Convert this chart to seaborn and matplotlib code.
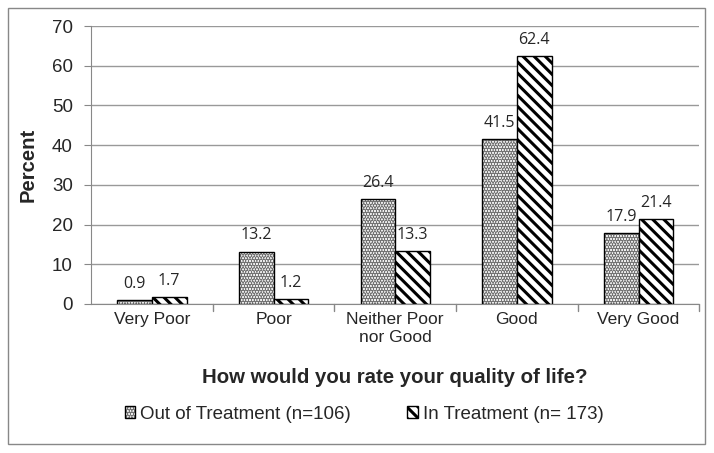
import matplotlib
matplotlib.use("Agg")
import matplotlib.pyplot as plt
import seaborn as sns
import pandas as pd
from matplotlib.patches import Rectangle

categories = ["Very Poor", "Poor", "Neither Poor\nnor Good", "Good", "Very Good"]
series_names = ["Out of Treatment (n=106)", "In Treatment (n= 173)"]
out_values = [0.9, 13.2, 26.4, 41.5, 17.9]
in_values = [1.7, 1.2, 13.3, 62.4, 21.4]
y_ticks = [0, 10, 20, 30, 40, 50, 60, 70]

df = pd.DataFrame({
    "category": categories * 2,
    "series": [series_names[0]] * 5 + [series_names[1]] * 5,
    "value": out_values + in_values,
})

sns.set_style("white")
plt.rcParams["font.family"] = ["Liberation Sans", "DejaVu Sans"]
plt.rcParams["hatch.linewidth"] = 2.2

fig = plt.figure(figsize=(7.14, 4.53), dpi=100)
ax = fig.add_axes([0.1275, 0.329, 0.852, 0.6136])

sns.barplot(data=df, x="category", y="value", hue="series", order=categories,
            hue_order=series_names, width=0.57, palette=["white", "white"],
            edgecolor="black", linewidth=1.0, ax=ax, legend=False, errorbar=None)

hatches = ["......", "\\\\\\"]
for cont, h, vals in zip(ax.containers, hatches, [out_values, in_values]):
    for bar in cont:
        bar.set_hatch(h)
        bar.set_edgecolor("black")
        if h.startswith("."):
            bar._hatch_color = (0.45, 0.45, 0.45, 1)
        bar.set_linewidth(1.0)
    ax.bar_label(cont, labels=[f"{v:.1f}" for v in vals], padding=6,
                 fontsize=11.5, family=["Open Sans", "DejaVu Sans"])

ax.set_ylim(0, 70)
ax.set_yticks(y_ticks)
ax.set_yticklabels([str(t) for t in y_ticks], fontsize=13.5)
ax.tick_params(axis="x", labelsize=12.5, length=0, pad=6)
ax.tick_params(axis="y", length=5, color="#888888", direction="out", left=True, pad=8)
ax.yaxis.grid(True, color="#999999", linewidth=1.0)
ax.set_axisbelow(True)
for s in ["top", "right"]:
    ax.spines[s].set_visible(False)
ax.spines["left"].set_color("#888888")
ax.spines["bottom"].set_color("#888888")
ax.set_xlim(-0.5, 4.5)
# category separator ticks
for xb in [0.5, 1.5, 2.5, 3.5, 4.5]:
    ax.plot([xb, xb], [0, -1.8], color="#888888", linewidth=1.0, clip_on=False)

ax.set_ylabel("Percent", fontsize=14.6, fontweight="bold", labelpad=10)
ax.set_xlabel("How would you rate your quality of life?", fontsize=14.7,
              fontweight="bold", labelpad=17)

handles = [Rectangle((0, 0), 1, 1, facecolor="white", edgecolor="black", hatch="......"),
           Rectangle((0, 0), 1, 1, facecolor="white", edgecolor="black", hatch="\\\\\\")]
handles[0]._hatch_color = (0.45, 0.45, 0.45, 1)
fig.legend(handles, series_names, loc="center", bbox_to_anchor=(0.51, 0.086),
           ncol=2, frameon=False, fontsize=13.5, handlelength=0.55, handleheight=0.55,
           handletextpad=0.27, columnspacing=3.0)

fig.patches.append(Rectangle((8 / 714, 1 - 444 / 453), 697 / 714, 436 / 453,
                             transform=fig.transFigure, fill=False,
                             edgecolor="#888888", linewidth=1.0))

fig.savefig("out.png", dpi=100)
